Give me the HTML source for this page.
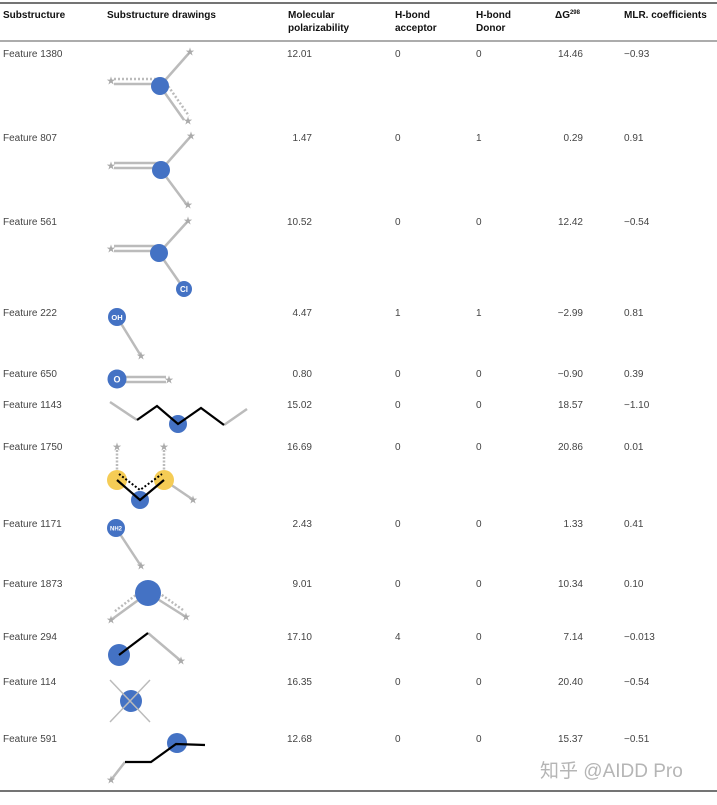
<!DOCTYPE html>
<html><head><meta charset="utf-8"><style>
html,body{margin:0;padding:0;background:#fff;}
svg text{font-family:"Liberation Sans","Noto Sans CJK SC",sans-serif;font-size:10px;fill:#444;}
.h{font-weight:bold;fill:#111;}
</style></head><body>
<svg width="717" height="800" viewBox="0 0 717 800" xmlns="http://www.w3.org/2000/svg">
<line x1="0" y1="3" x2="717" y2="3" stroke="#222" stroke-width="1.2"/>
<line x1="0" y1="41" x2="717" y2="41" stroke="#222" stroke-width="0.8"/>
<line x1="0" y1="791" x2="717" y2="791" stroke="#222" stroke-width="1.2"/>
<text class="h" x="3" y="18">Substructure</text>
<text class="h" x="107" y="18">Substructure drawings</text>
<text class="h" x="288" y="18">Molecular</text><text class="h" x="288" y="31">polarizability</text>
<text class="h" x="395" y="18">H-bond</text><text class="h" x="395" y="31">acceptor</text>
<text class="h" x="476" y="18">H-bond</text><text class="h" x="476" y="31">Donor</text>
<text class="h" x="555" y="18">ΔG<tspan font-size="6" dy="-4">298</tspan></text>
<text class="h" x="624" y="18">MLR. coefficients</text>
<g>
<text x="3" y="57">Feature 1380</text><text x="312" y="57" text-anchor="end">12.01</text><text x="395" y="57">0</text><text x="476" y="57">0</text><text x="583" y="57" text-anchor="end">14.46</text><text x="624" y="57">−0.93</text>
<text x="3" y="141">Feature 807</text><text x="312" y="141" text-anchor="end">1.47</text><text x="395" y="141">0</text><text x="476" y="141">1</text><text x="583" y="141" text-anchor="end">0.29</text><text x="624" y="141">0.91</text>
<text x="3" y="225">Feature 561</text><text x="312" y="225" text-anchor="end">10.52</text><text x="395" y="225">0</text><text x="476" y="225">0</text><text x="583" y="225" text-anchor="end">12.42</text><text x="624" y="225">−0.54</text>
<text x="3" y="316">Feature 222</text><text x="312" y="316" text-anchor="end">4.47</text><text x="395" y="316">1</text><text x="476" y="316">1</text><text x="583" y="316" text-anchor="end">−2.99</text><text x="624" y="316">0.81</text>
<text x="3" y="377">Feature 650</text><text x="312" y="377" text-anchor="end">0.80</text><text x="395" y="377">0</text><text x="476" y="377">0</text><text x="583" y="377" text-anchor="end">−0.90</text><text x="624" y="377">0.39</text>
<text x="3" y="408">Feature 1143</text><text x="312" y="408" text-anchor="end">15.02</text><text x="395" y="408">0</text><text x="476" y="408">0</text><text x="583" y="408" text-anchor="end">18.57</text><text x="624" y="408">−1.10</text>
<text x="3" y="450">Feature 1750</text><text x="312" y="450" text-anchor="end">16.69</text><text x="395" y="450">0</text><text x="476" y="450">0</text><text x="583" y="450" text-anchor="end">20.86</text><text x="624" y="450">0.01</text>
<text x="3" y="527">Feature 1171</text><text x="312" y="527" text-anchor="end">2.43</text><text x="395" y="527">0</text><text x="476" y="527">0</text><text x="583" y="527" text-anchor="end">1.33</text><text x="624" y="527">0.41</text>
<text x="3" y="587">Feature 1873</text><text x="312" y="587" text-anchor="end">9.01</text><text x="395" y="587">0</text><text x="476" y="587">0</text><text x="583" y="587" text-anchor="end">10.34</text><text x="624" y="587">0.10</text>
<text x="3" y="640">Feature 294</text><text x="312" y="640" text-anchor="end">17.10</text><text x="395" y="640">4</text><text x="476" y="640">0</text><text x="583" y="640" text-anchor="end">7.14</text><text x="624" y="640">−0.013</text>
<text x="3" y="685">Feature 114</text><text x="312" y="685" text-anchor="end">16.35</text><text x="395" y="685">0</text><text x="476" y="685">0</text><text x="583" y="685" text-anchor="end">20.40</text><text x="624" y="685">−0.54</text>
<text x="3" y="742">Feature 591</text><text x="312" y="742" text-anchor="end">12.68</text><text x="395" y="742">0</text><text x="476" y="742">0</text><text x="583" y="742" text-anchor="end">15.37</text><text x="624" y="742">−0.51</text>
</g>
<g stroke="#bbb" stroke-width="2.5" fill="none">
<line x1="160" y1="86" x2="190" y2="52"/><line x1="160" y1="84" x2="114" y2="84"/><line x1="160" y1="86" x2="184" y2="120"/>
<line x1="160" y1="79" x2="114" y2="79" stroke-dasharray="2,2"/><line x1="166" y1="83" x2="189" y2="116" stroke-dasharray="2,2"/>
<line x1="161" y1="170" x2="191" y2="136"/><line x1="161" y1="168" x2="114" y2="168"/><line x1="161" y1="163" x2="114" y2="163"/><line x1="161" y1="170" x2="187" y2="205"/>
<line x1="159" y1="253" x2="188" y2="221"/><line x1="159" y1="251" x2="114" y2="251"/><line x1="159" y1="246" x2="114" y2="246"/><line x1="159" y1="253" x2="184" y2="289"/>
<line x1="117" y1="317" x2="141" y2="356"/>
<line x1="117" y1="377" x2="166" y2="377"/><line x1="117" y1="382" x2="166" y2="382"/>
<line x1="110" y1="402" x2="137" y2="420"/><line x1="224" y1="425" x2="247" y2="409"/>
<line x1="117" y1="480" x2="117" y2="448" stroke-dasharray="2,1.5"/><line x1="164" y1="480" x2="164" y2="448" stroke-dasharray="2,1.5"/><line x1="164" y1="480" x2="192" y2="499"/>
<line x1="116" y1="528" x2="141" y2="566"/>
<line x1="148" y1="593" x2="111" y2="620"/><line x1="148" y1="593" x2="186" y2="617"/>
<line x1="145" y1="588" x2="114" y2="612" stroke-dasharray="2,2"/><line x1="152" y1="588" x2="183" y2="610" stroke-dasharray="2,2"/>
<line x1="148" y1="633" x2="181" y2="661"/>
<line x1="111" y1="780" x2="125" y2="762"/>
</g>
<g fill="#4472c4">
<circle cx="160" cy="86" r="9"/><circle cx="161" cy="170" r="9"/><circle cx="159" cy="253" r="9"/>
<circle cx="184" cy="289" r="8"/><circle cx="117" cy="317" r="9"/><circle cx="117" cy="379" r="9.5"/>
<circle cx="178" cy="424" r="9"/>
<circle cx="117" cy="480" r="10" fill="#f5cc55"/><circle cx="164" cy="480" r="10" fill="#f5cc55"/>
<circle cx="140" cy="500" r="9"/>
<circle cx="116" cy="528" r="9"/><circle cx="148" cy="593" r="13"/><circle cx="119" cy="655" r="11"/>
<circle cx="131" cy="701" r="11"/><circle cx="177" cy="743" r="10"/>
</g>
<g stroke="#000" stroke-width="2.2" fill="none">
<polyline points="137,420 157,406 178,424 201,408 224,425"/>
<polyline points="117,480 140,500 164,480"/>
<polyline points="119,474 140,490 162,474" stroke-width="2" stroke-dasharray="2,2"/>
<line x1="119" y1="655" x2="148" y2="633"/>
<polyline points="125,762 151,762 176,744 205,745"/>
</g>
<g stroke="#bbb" stroke-width="1.5">
<line x1="110" y1="680" x2="150" y2="722"/><line x1="150" y1="680" x2="110" y2="722"/>
</g>
<g text-anchor="middle">
<text x="190" y="55" style="fill:#aaa;font-size:9px">★</text><text x="111" y="84" style="fill:#aaa;font-size:9px">★</text><text x="188" y="124" style="fill:#aaa;font-size:9px">★</text>
<text x="191" y="139" style="fill:#aaa;font-size:9px">★</text><text x="111" y="169" style="fill:#aaa;font-size:9px">★</text><text x="188" y="208" style="fill:#aaa;font-size:9px">★</text>
<text x="188" y="224" style="fill:#aaa;font-size:9px">★</text><text x="111" y="252" style="fill:#aaa;font-size:9px">★</text>
<text x="141" y="359" style="fill:#aaa;font-size:9px">★</text><text x="169" y="383" style="fill:#aaa;font-size:9px">★</text>
<text x="117" y="450" style="fill:#aaa;font-size:9px">★</text><text x="164" y="450" style="fill:#aaa;font-size:9px">★</text><text x="193" y="503" style="fill:#aaa;font-size:9px">★</text>
<text x="141" y="569" style="fill:#aaa;font-size:9px">★</text><text x="111" y="623" style="fill:#aaa;font-size:9px">★</text><text x="186" y="620" style="fill:#aaa;font-size:9px">★</text>
<text x="181" y="664" style="fill:#aaa;font-size:9px">★</text><text x="111" y="783" style="fill:#aaa;font-size:9px">★</text>
</g>
<g text-anchor="middle">
<text x="184" y="292" style="fill:#fff;font-size:8px;font-weight:bold">Cl</text>
<text x="117" y="320" style="fill:#fff;font-size:7.5px;font-weight:bold">OH</text>
<text x="117" y="382.5" style="fill:#fff;font-size:9px;font-weight:bold">O</text>
<text x="116" y="530.5" style="fill:#fff;font-size:6px;font-weight:bold">NH2</text>
</g>
<text x="540" y="777" style="font-size:19px;fill:#b5b5b5">知乎 @AIDD Pro</text>
</svg>
</body></html>
